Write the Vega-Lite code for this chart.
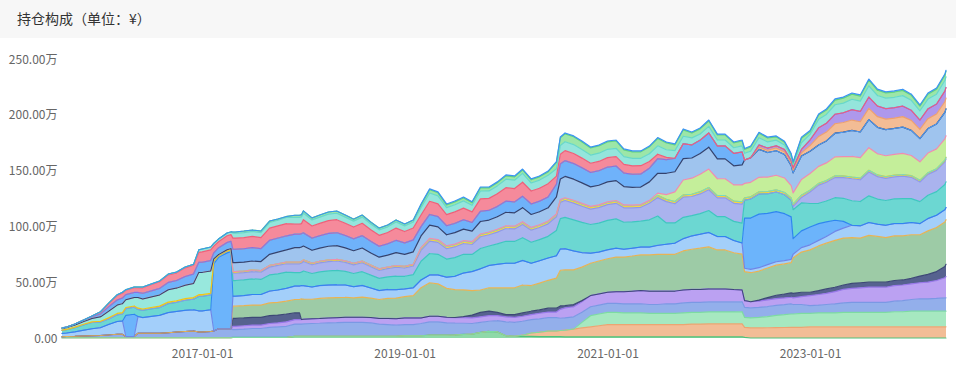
{
"$schema":"https://vega.github.io/schema/vega-lite/v6.json",
"padding":0,
"background":"white",
"spacing":15,
"config":{"view":{"stroke":null},"font":"Noto Sans CJK SC"},
"vconcat":[
{"width":956,"height":38,
 "view":{"fill":"#f7f7f7","stroke":null},
 "title":{"text":"持仓构成（单位：¥）","anchor":"start","frame":"group","orient":"top","offset":-19,"dx":17,"dy":15,"baseline":"middle","fontSize":14,"fontWeight":"normal","color":"#333333","font":"Noto Sans CJK SC"},
 "data":{"values":[]},
 "mark":{"type":"rect","opacity":0}
},
{"width":946,"height":279,
 "data":{"format":{"parse":{"date":"date"}},"values":[
{"date":"2015-08-15","a":0.3,"b":0,"c":0,"d":0.9,"e":0,"f":0,"g":0,"h":2.9,"i":0,"j":2.7,"k":0,"l":0.3,"m":1.3,"n":0,"o":0,"p":0.6,"q":0,"r":0,"s":0,"t":0,"u":0,"v":0},
{"date":"2015-09-01","a":0.3,"b":0,"c":0,"d":1,"e":0,"f":0,"g":0,"h":3.2,"i":0,"j":3,"k":0,"l":0.3,"m":1.5,"n":0,"o":0,"p":0.6,"q":0,"r":0,"s":0,"t":0,"u":0,"v":0},
{"date":"2015-10-01","a":0.3,"b":0,"c":0,"d":1.2,"e":0,"f":0,"g":0,"h":4,"i":0,"j":3.8,"k":0,"l":0.4,"m":1.9,"n":0,"o":0,"p":0.9,"q":0,"r":0,"s":0,"t":0,"u":0,"v":0},
{"date":"2015-11-01","a":0.3,"b":0,"c":0,"d":1.5,"e":0,"f":0,"g":0,"h":5.2,"i":0,"j":4.8,"k":0,"l":0.5,"m":2.4,"n":0,"o":0,"p":1.4,"q":0,"r":0,"s":0,"t":0,"u":0,"v":0},
{"date":"2015-12-01","a":0.3,"b":0,"c":0,"d":1.8,"e":0,"f":0,"g":0,"h":6.2,"i":0,"j":5.6,"k":0,"l":0.6,"m":3,"n":0,"o":0,"p":1.6,"q":0,"r":0,"s":0.6,"t":0,"u":0,"v":0},
{"date":"2016-01-01","a":0.3,"b":0,"c":0,"d":2,"e":0,"f":0,"g":0,"h":7,"i":0,"j":5,"k":0,"l":0.7,"m":4,"n":0,"o":0,"p":2.6,"q":0,"r":0,"s":1.7,"t":0.3,"u":0,"v":0},
{"date":"2016-02-01","a":0.3,"b":0,"c":0,"d":2.5,"e":0,"f":0,"g":0,"h":9.5,"i":0,"j":5,"k":0,"l":1,"m":6,"n":0,"o":0,"p":4,"q":0,"r":0,"s":3,"t":0.5,"u":0,"v":0},
{"date":"2016-03-01","a":0.3,"b":0,"c":0,"d":3,"e":0,"f":0,"g":0,"h":11.5,"i":0,"j":6,"k":0,"l":1.2,"m":7.5,"n":0,"o":0,"p":4.6,"q":0,"r":0,"s":4,"t":0.7,"u":0,"v":0},
{"date":"2016-03-20","a":0.3,"b":0,"c":0,"d":3,"e":0,"f":0,"g":0,"h":12,"i":0,"j":6.3,"k":0,"l":1.2,"m":8,"n":0,"o":0,"p":5,"q":0,"r":0,"s":4.5,"t":0.7,"u":0,"v":0},
{"date":"2016-04-01","a":0.3,"b":0,"c":0,"d":1,"e":0,"f":0,"g":0,"h":0,"i":19,"j":6,"k":0,"l":1,"m":7,"n":0,"o":0,"p":4.5,"q":0,"r":0,"s":4,"t":0.5,"u":0,"v":0},
{"date":"2016-05-01","a":0.3,"b":0,"c":0,"d":1,"e":0,"f":0,"g":0,"h":0,"i":20,"j":6.3,"k":0,"l":1.1,"m":7.5,"n":0,"o":0,"p":4.6,"q":0,"r":0,"s":4.3,"t":0.6,"u":0,"v":0},
{"date":"2016-05-15","a":0.3,"b":0,"c":0,"d":4,"e":0,"f":0,"g":0,"h":15,"i":0,"j":6.3,"k":0,"l":1.1,"m":9.5,"n":0,"o":0,"p":4.6,"q":0,"r":0,"s":4.3,"t":0.6,"u":0,"v":0},
{"date":"2016-06-01","a":0.3,"b":0,"c":0,"d":4,"e":0,"f":0,"g":0,"h":14,"i":0,"j":6.5,"k":0,"l":1.2,"m":9,"n":0,"o":0,"p":5,"q":0,"r":0,"s":5,"t":0.7,"u":0,"v":0},
{"date":"2016-07-01","a":0.3,"b":0,"c":0,"d":4,"e":0,"f":0,"g":0,"h":15,"i":0,"j":6.8,"k":0,"l":1.2,"m":9.5,"n":0,"o":0,"p":5.4,"q":0,"r":0,"s":5.5,"t":0.7,"u":0,"v":0},
{"date":"2016-08-01","a":0.3,"b":0,"c":0,"d":4,"e":0,"f":0,"g":0,"h":16,"i":0,"j":7,"k":0,"l":1.3,"m":10,"n":0,"o":0,"p":5.8,"q":0,"r":0,"s":6,"t":0.7,"u":0,"v":0},
{"date":"2016-09-01","a":0.3,"b":0,"c":0,"d":4.5,"e":0,"f":0,"g":0,"h":18,"i":0,"j":8,"k":0,"l":1.4,"m":11,"n":0,"o":0,"p":6.6,"q":0,"r":0,"s":6.8,"t":0.7,"u":0,"v":0},
{"date":"2016-10-01","a":0.3,"b":0,"c":0,"d":5,"e":0,"f":0,"g":0,"h":18.5,"i":0,"j":8.2,"k":0,"l":1.4,"m":11.3,"n":0,"o":0,"p":6.8,"q":0,"r":0,"s":6.9,"t":0.7,"u":0,"v":0},
{"date":"2016-11-01","a":0.3,"b":0,"c":0,"d":5.5,"e":0,"f":0,"g":0,"h":19,"i":0,"j":9,"k":0,"l":1.5,"m":12,"n":0,"o":0,"p":7.8,"q":0,"r":0,"s":7.8,"t":0.7,"u":0,"v":0},
{"date":"2016-12-01","a":0.3,"b":0,"c":0,"d":6,"e":0,"f":0,"g":0,"h":19,"i":0,"j":9.5,"k":0,"l":1.5,"m":12.5,"n":0,"o":0,"p":8.5,"q":0,"r":0,"s":7.9,"t":0.8,"u":0,"v":0},
{"date":"2016-12-20","a":0.3,"b":0,"c":0,"d":5,"e":0,"f":0,"g":0,"h":19,"i":0,"j":13,"k":0,"l":1.5,"m":20,"n":0,"o":0,"p":9,"q":0,"r":0,"s":9,"t":2.2,"u":0,"v":0},
{"date":"2017-01-01","a":0.3,"b":0,"c":0,"d":5,"e":0,"f":0,"g":0,"h":19,"i":0,"j":13,"k":0,"l":1.5,"m":20,"n":0,"o":0,"p":9,"q":0,"r":0,"s":9.4,"t":2.5,"u":0,"v":0},
{"date":"2017-02-01","a":0.3,"b":0,"c":0,"d":5.5,"e":0,"f":0,"g":0,"h":19.5,"i":0,"j":13.3,"k":0,"l":1.5,"m":20,"n":0,"o":0,"p":9.3,"q":0,"r":0,"s":9.6,"t":2.5,"u":0,"v":0},
{"date":"2017-02-12","a":0.3,"b":0,"c":0,"d":6,"e":0,"f":0,"g":0,"h":0,"i":60,"j":2,"k":0,"l":0.5,"m":2,"n":0,"o":0,"p":5.5,"q":0,"r":0,"s":6,"t":2.5,"u":0,"v":0},
{"date":"2017-03-01","a":0.3,"b":0,"c":0,"d":8,"e":0,"f":0,"g":0,"h":0,"i":64,"j":1,"k":0,"l":0.4,"m":1,"n":0,"o":0,"p":6,"q":0,"r":0,"s":5.5,"t":2.5,"u":0,"v":0},
{"date":"2017-04-01","a":0.3,"b":0,"c":0,"d":8,"e":0,"f":0,"g":0,"h":0,"i":68,"j":1.2,"k":0,"l":0.4,"m":1.2,"n":0,"o":0,"p":6.5,"q":0,"r":0,"s":6,"t":2.5,"u":0,"v":0},
{"date":"2017-04-15","a":0.3,"b":0,"c":0,"d":8,"e":0,"f":0,"g":0,"h":0,"i":69,"j":1.2,"k":0,"l":0.4,"m":1.2,"n":0,"o":0,"p":6.5,"q":0,"r":0,"s":6,"t":2.5,"u":0,"v":0},
{"date":"2017-04-22","a":0.5,"b":0,"c":0,"d":7,"e":3,"f":7,"g":11,"h":9,"i":0,"j":14,"k":6.5,"l":1.5,"m":0,"n":0,"o":8,"p":12,"q":0,"r":0,"s":10,"t":4.5,"u":1,"v":0},
{"date":"2017-05-01","a":0.5,"b":0,"c":0,"d":7,"e":3,"f":7,"g":11,"h":9,"i":0,"j":14,"k":6.5,"l":1.5,"m":0,"n":0,"o":8,"p":12,"q":0,"r":0,"s":10,"t":4.5,"u":1,"v":0},
{"date":"2017-06-01","a":0.5,"b":0,"c":0,"d":7.5,"e":3,"f":7,"g":11,"h":9,"i":0,"j":14,"k":6.5,"l":1.5,"m":0,"n":0,"o":8,"p":12,"q":0,"r":0,"s":10,"t":4.5,"u":1.4,"v":0},
{"date":"2017-07-01","a":0.5,"b":0,"c":0,"d":8,"e":3,"f":7,"g":11,"h":9.5,"i":0,"j":14,"k":6.5,"l":1.5,"m":0,"n":0,"o":8,"p":12,"q":0,"r":0,"s":10,"t":4.5,"u":1.3,"v":0},
{"date":"2017-08-01","a":0.5,"b":0,"c":0,"d":8,"e":3,"f":7,"g":11,"h":9.5,"i":0,"j":13.5,"k":6.5,"l":1.5,"m":0,"n":0,"o":8,"p":11.5,"q":0,"r":0,"s":10,"t":4.5,"u":1.4,"v":0},
{"date":"2017-09-01","a":0.5,"b":0,"c":0,"d":9,"e":3.5,"f":7,"g":11.5,"h":10.5,"i":0,"j":14.5,"k":7,"l":1.5,"m":0,"n":0,"o":10,"p":12.5,"q":0,"r":0,"s":11,"t":5,"u":1.3,"v":0},
{"date":"2017-10-01","a":0.5,"b":0,"c":0,"d":9.5,"e":3.5,"f":7,"g":11.5,"h":11,"i":0,"j":14.5,"k":7.5,"l":1.5,"m":0,"n":0,"o":10.5,"p":12.5,"q":0,"r":0,"s":11,"t":5,"u":1.1,"v":0},
{"date":"2017-11-01","a":0.5,"b":0,"c":0,"d":10,"e":4,"f":7,"g":11.5,"h":11.5,"i":0,"j":14.5,"k":7.5,"l":1.5,"m":0,"n":0,"o":11,"p":12.5,"q":0,"r":0,"s":11,"t":5.5,"u":0.9,"v":0},
{"date":"2017-12-01","a":1.5,"b":0,"c":0,"d":11,"e":4,"f":6,"g":12,"h":12,"i":0,"j":12,"k":8,"l":1.5,"m":0,"n":0,"o":13,"p":12,"q":0,"r":0,"s":9,"t":6,"u":2,"v":0},
{"date":"2017-12-18","a":1.5,"b":0,"c":0,"d":11,"e":4,"f":6,"g":12,"h":12,"i":0,"j":12,"k":8,"l":1.5,"m":0,"n":0,"o":13,"p":12,"q":0,"r":0,"s":9,"t":6,"u":2,"v":0},
{"date":"2017-12-25","a":1.5,"b":0,"c":0,"d":11,"e":4,"f":0,"g":18.5,"h":12,"i":0,"j":12,"k":8,"l":1.5,"m":0,"n":0,"o":13,"p":12,"q":0,"r":0,"s":9,"t":6,"u":2,"v":0},
{"date":"2018-01-01","a":1.5,"b":0,"c":0,"d":11.2,"e":4.2,"f":0,"g":18,"h":12,"i":0,"j":13.1,"k":8.5,"l":1.5,"m":0,"n":0,"o":12.4,"p":11.8,"q":0,"r":0,"s":11.8,"t":5.9,"u":2,"v":0},
{"date":"2018-02-01","a":1.5,"b":0,"c":0,"d":11.5,"e":4.2,"f":0,"g":17.5,"h":11,"i":0,"j":12.1,"k":7.8,"l":1.5,"m":0,"n":0,"o":11.5,"p":10.9,"q":0,"r":0,"s":10.9,"t":5.4,"u":1.8,"v":0},
{"date":"2018-03-01","a":1.5,"b":0,"c":0,"d":11.7,"e":4.3,"f":0,"g":18,"h":11.5,"i":0,"j":12.3,"k":8,"l":1.5,"m":0,"n":0,"o":11.7,"p":11.1,"q":0,"r":0,"s":11.1,"t":5.6,"u":1.9,"v":0},
{"date":"2018-04-01","a":1.5,"b":0,"c":0,"d":12,"e":4.4,"f":0,"g":18,"h":11.5,"i":0,"j":12.8,"k":8.3,"l":1.5,"m":0,"n":0,"o":12.2,"p":11.5,"q":0,"r":0,"s":11.5,"t":5.8,"u":1.9,"v":0},
{"date":"2018-05-01","a":1.5,"b":0,"c":0,"d":12.2,"e":4.5,"f":0,"g":18,"h":11.5,"i":0,"j":12.9,"k":8.4,"l":1.5,"m":0,"n":0,"o":12.3,"p":11.6,"q":0,"r":0,"s":11.6,"t":5.8,"u":2,"v":0},
{"date":"2018-06-01","a":1.5,"b":0,"c":0,"d":12.5,"e":4.5,"f":0,"g":18,"h":11,"i":0,"j":12.2,"k":8,"l":1.5,"m":0,"n":0,"o":11.6,"p":11,"q":0,"r":0,"s":11,"t":5.5,"u":1.9,"v":0},
{"date":"2018-07-01","a":1.5,"b":0,"c":0,"d":12.5,"e":4.5,"f":0,"g":17.5,"h":10,"i":0,"j":11.8,"k":7.7,"l":1.5,"m":0,"n":0,"o":11.2,"p":10.6,"q":0,"r":0,"s":10.6,"t":5.3,"u":1.8,"v":0},
{"date":"2018-08-01","a":1.5,"b":0,"c":0,"d":12.5,"e":4.6,"f":0,"g":18,"h":10.5,"i":0,"j":12.3,"k":8,"l":1.5,"m":0,"n":0,"o":11.7,"p":11.1,"q":0,"r":0,"s":11.1,"t":5.5,"u":1.9,"v":0},
{"date":"2018-09-01","a":1.5,"b":0,"c":0,"d":12,"e":4.8,"f":0,"g":17.5,"h":9,"i":0,"j":11.5,"k":7.5,"l":1.5,"m":0,"n":0,"o":10.9,"p":10.4,"q":0,"r":0,"s":10.4,"t":5.2,"u":1.7,"v":0},
{"date":"2018-10-01","a":1.5,"b":0,"c":0,"d":11,"e":5,"f":0,"g":17,"h":8,"i":0,"j":10.9,"k":7.1,"l":1.5,"m":0,"n":0,"o":10.4,"p":9.8,"q":0,"r":0,"s":9.8,"t":4.9,"u":1.6,"v":0},
{"date":"2018-11-01","a":1.5,"b":0,"c":0,"d":10.5,"e":5.5,"f":0,"g":18,"h":8,"i":0,"j":11.3,"k":7.3,"l":1.5,"m":0,"n":0,"o":10.7,"p":10.1,"q":0,"r":0,"s":10.1,"t":5.1,"u":1.7,"v":0},
{"date":"2018-12-01","a":1.5,"b":0,"c":0,"d":10,"e":5.8,"f":0,"g":18.5,"h":7.5,"i":0,"j":12.2,"k":7.9,"l":1.5,"m":0,"n":0,"o":11.6,"p":11,"q":0,"r":0,"s":11,"t":5.5,"u":1.8,"v":0},
{"date":"2019-01-01","a":2,"b":0,"c":0,"d":10,"e":6,"f":0,"g":19,"h":7,"i":0,"j":11.3,"k":7.4,"l":1.5,"m":0,"n":0,"o":10.8,"p":10.2,"q":0,"r":0,"s":10.2,"t":5.1,"u":1.7,"v":0},
{"date":"2019-02-01","a":2,"b":0,"c":0,"d":10,"e":6,"f":0,"g":20,"h":7,"i":0,"j":11.8,"k":7.7,"l":1.5,"m":0,"n":0,"o":11.2,"p":10.7,"q":0,"r":0,"s":10.7,"t":5.3,"u":1.8,"v":0},
{"date":"2019-03-01","a":2,"b":0,"c":0,"d":11,"e":5,"f":0,"g":27,"h":7,"i":0,"j":16.8,"k":9.7,"l":2,"m":0,"n":0.5,"o":10.4,"p":8.4,"q":0,"r":0,"s":10.4,"t":6.5,"u":2.6,"v":0.8},
{"date":"2019-04-01","a":2.5,"b":0,"c":0,"d":12,"e":5,"f":0,"g":30,"h":7,"i":0,"j":19.2,"k":11.1,"l":2,"m":0,"n":0.5,"o":11.8,"p":9.6,"q":0,"r":0,"s":11.8,"t":7.4,"u":2.9,"v":0.8},
{"date":"2019-05-01","a":2.5,"b":0,"c":0,"d":12,"e":5,"f":0,"g":29,"h":8,"i":0,"j":18.5,"k":10.7,"l":2,"m":0,"n":0.5,"o":11.4,"p":9.2,"q":0,"r":0,"s":11.4,"t":7.1,"u":2.8,"v":0.8},
{"date":"2019-06-01","a":2.5,"b":0,"c":0,"d":11,"e":5,"f":0,"g":26,"h":10,"i":0,"j":16.2,"k":9.3,"l":2,"m":0,"n":0.5,"o":10,"p":8.1,"q":0,"r":0,"s":10,"t":6.2,"u":2.5,"v":0.8},
{"date":"2019-07-01","a":2.8,"b":0,"c":0,"d":10.5,"e":5,"f":0,"g":25,"h":12,"i":0,"j":16.7,"k":9.6,"l":2,"m":0,"n":0.5,"o":10.3,"p":8.3,"q":0,"r":0,"s":10.3,"t":6.4,"u":2.6,"v":0.8},
{"date":"2019-08-01","a":3.2,"b":0,"c":0,"d":10,"e":5,"f":1,"g":24,"h":15,"i":0,"j":16.8,"k":9.7,"l":2,"m":0,"n":0.5,"o":10.4,"p":8.4,"q":0,"r":0,"s":10.4,"t":6.5,"u":2.6,"v":0.8},
{"date":"2019-09-01","a":3.5,"b":0,"c":0,"d":9.5,"e":5,"f":2.5,"g":22,"h":17,"i":0,"j":15.4,"k":8.9,"l":2,"m":0,"n":0.5,"o":9.5,"p":7.7,"q":0,"r":0,"s":9.5,"t":5.9,"u":2.4,"v":0.8},
{"date":"2019-10-01","a":5,"b":0,"c":0,"d":9,"e":5,"f":4,"g":20,"h":19,"i":0,"j":18.2,"k":10.5,"l":2,"m":0,"n":0.5,"o":11.2,"p":9.1,"q":0,"r":0,"s":11.2,"t":7,"u":2.8,"v":0.8},
{"date":"2019-11-01","a":6,"b":0,"c":0,"d":9,"e":5,"f":4,"g":21,"h":20,"i":0,"j":17.4,"k":10.1,"l":2,"m":0,"n":0.5,"o":10.7,"p":8.7,"q":0,"r":0,"s":10.7,"t":6.7,"u":2.7,"v":0.8},
{"date":"2019-12-01","a":5.5,"b":0,"c":0,"d":10,"e":4.5,"f":3,"g":22,"h":21,"i":0,"j":18.3,"k":10.6,"l":2,"m":0,"n":0.5,"o":11.3,"p":9.2,"q":0,"r":0,"s":11.3,"t":7.1,"u":2.8,"v":0.8},
{"date":"2020-01-01","a":2,"b":0,"c":0,"d":12.5,"e":4.5,"f":2,"g":24,"h":22,"i":0,"j":19.7,"k":11.4,"l":2,"m":0,"n":0.5,"o":12.1,"p":9.9,"q":0,"r":0,"s":12.1,"t":7.6,"u":3,"v":0.8},
{"date":"2020-02-01","a":1.5,"b":0,"c":0,"d":12.5,"e":4.5,"f":2.5,"g":24,"h":22,"i":0,"j":19.5,"k":11.2,"l":2,"m":0,"n":0.5,"o":12,"p":9.7,"q":0,"r":0,"s":12,"t":7.5,"u":3,"v":0.8},
{"date":"2020-03-01","a":1.5,"b":1,"c":0,"d":12.5,"e":4.5,"f":3,"g":25,"h":22,"i":0,"j":20.4,"k":11.8,"l":2,"m":0,"n":0.5,"o":12.6,"p":10.2,"q":0,"r":0,"s":12.6,"t":7.9,"u":3.1,"v":0.8},
{"date":"2020-04-01","a":1.5,"b":3,"c":0,"d":12,"e":4.5,"f":3,"g":23,"h":20,"i":0,"j":18.8,"k":10.8,"l":2,"m":0,"n":0.5,"o":11.6,"p":9.4,"q":0,"r":0,"s":11.6,"t":7.2,"u":2.9,"v":0.8},
{"date":"2020-05-01","a":1.2,"b":4,"c":0,"d":12,"e":5,"f":3,"g":24,"h":20,"i":0,"j":18.9,"k":10.9,"l":2,"m":0,"n":0.5,"o":11.6,"p":9.5,"q":0,"r":0,"s":11.6,"t":7.3,"u":2.9,"v":0.8},
{"date":"2020-06-01","a":1.2,"b":5,"c":0,"d":12,"e":5,"f":3.5,"g":25,"h":20,"i":0,"j":19.4,"k":11.2,"l":2,"m":0,"n":0.5,"o":11.9,"p":9.7,"q":0,"r":0,"s":11.9,"t":7.5,"u":3,"v":0.8},
{"date":"2020-07-01","a":1.2,"b":5,"c":0,"d":12,"e":5,"f":3.5,"g":27,"h":20,"i":0,"j":22.7,"k":12.2,"l":2,"m":0,"n":0.5,"o":15.4,"p":11.3,"q":0,"r":0,"s":7.3,"t":6.5,"u":5.7,"v":0.8},
{"date":"2020-07-15","a":1.2,"b":5.5,"c":0,"d":11,"e":8,"f":3,"g":32,"h":19,"i":0,"j":27.2,"k":14.6,"l":2,"m":0,"n":0.5,"o":18.4,"p":13.6,"q":0,"r":0,"s":8.7,"t":7.8,"u":6.8,"v":0.8},
{"date":"2020-08-01","a":1,"b":6,"c":0,"d":11,"e":9,"f":2,"g":32,"h":19,"i":0,"j":28.1,"k":15.1,"l":2,"m":0,"n":0.5,"o":19.1,"p":14.1,"q":0,"r":0,"s":9,"t":8,"u":7,"v":0.8},
{"date":"2020-09-01","a":1,"b":7,"c":0,"d":11,"e":9,"f":2,"g":31,"h":17,"i":0,"j":27.9,"k":15,"l":2,"m":0,"n":0.5,"o":18.9,"p":14,"q":0,"r":0,"s":9,"t":8,"u":7,"v":0.8},
{"date":"2020-10-01","a":1,"b":8,"c":5,"d":9,"e":9.5,"f":1,"g":30,"h":13,"i":0,"j":27.1,"k":14.5,"l":2,"m":0,"n":0.5,"o":18.4,"p":13.5,"q":0,"r":0,"s":8.7,"t":7.7,"u":6.8,"v":0.8},
{"date":"2020-11-01","a":1,"b":9,"c":10,"d":8,"e":10,"f":0,"g":29,"h":9,"i":0,"j":25.7,"k":13.8,"l":2,"m":0,"n":0.5,"o":17.4,"p":12.9,"q":0,"r":0,"s":8.3,"t":7.3,"u":6.4,"v":0.8},
{"date":"2020-12-01","a":1,"b":10,"c":10.5,"d":8,"e":10,"f":0,"g":29.5,"h":8,"i":0,"j":25.9,"k":13.9,"l":2,"m":0,"n":0.5,"o":17.6,"p":13,"q":0,"r":0,"s":8.3,"t":7.4,"u":6.5,"v":0.8},
{"date":"2021-01-01","a":1,"b":11,"c":11,"d":8,"e":10,"f":0,"g":30,"h":8,"i":0,"j":26.4,"k":14.1,"l":2,"m":0,"n":0.5,"o":17.9,"p":13.2,"q":0,"r":0,"s":8.5,"t":7.5,"u":6.6,"v":0.8},
{"date":"2021-02-01","a":1,"b":11,"c":11,"d":8,"e":10.5,"f":0,"g":31,"h":8,"i":0,"j":26.2,"k":14,"l":2,"m":0,"n":0.5,"o":17.8,"p":13.1,"q":0,"r":0,"s":8.4,"t":7.5,"u":6.6,"v":0.8},
{"date":"2021-03-01","a":1,"b":11,"c":10.5,"d":8,"e":11,"f":0,"g":31,"h":7,"i":0,"j":24.2,"k":13,"l":2,"m":0,"n":0.5,"o":16.5,"p":12.1,"q":0,"r":0,"s":7.8,"t":6.9,"u":6.1,"v":0.8},
{"date":"2021-04-01","a":1,"b":11,"c":10.5,"d":8,"e":11.5,"f":0,"g":31.5,"h":7,"i":0,"j":23.5,"k":12.6,"l":2,"m":0,"n":0.5,"o":15.9,"p":11.7,"q":0,"r":0,"s":7.5,"t":6.7,"u":5.9,"v":0.8},
{"date":"2021-05-01","a":1,"b":11,"c":10.5,"d":8,"e":12,"f":0,"g":32,"h":7,"i":0,"j":23.2,"k":12.4,"l":2,"m":0,"n":0.5,"o":15.7,"p":11.6,"q":0,"r":0,"s":7.5,"t":6.6,"u":5.8,"v":0.8},
{"date":"2021-06-01","a":1,"b":11,"c":10,"d":8,"e":12,"f":0,"g":32.5,"h":7,"i":0,"j":24.4,"k":14.9,"l":2,"m":0,"n":0.5,"o":16.6,"p":12.2,"q":0,"r":0,"s":6,"t":7,"u":6.1,"v":0.8},
{"date":"2021-07-01","a":1,"b":11,"c":10,"d":8,"e":12,"f":0,"g":33,"h":8,"i":0,"j":26.3,"k":16.5,"l":2,"m":0,"n":2,"o":17.8,"p":13.1,"q":0,"r":0,"s":4,"t":7.5,"u":6.6,"v":0.8},
{"date":"2021-08-01","a":1,"b":11,"c":10,"d":8.5,"e":11.5,"f":0,"g":33,"h":9,"i":0,"j":19.1,"k":19.1,"l":2,"m":0,"n":4.3,"o":19.1,"p":12.2,"q":0,"r":0,"s":2,"t":6.9,"u":6.1,"v":0.8},
{"date":"2021-09-01","a":1,"b":11,"c":10,"d":8.5,"e":11.5,"f":0,"g":33,"h":10,"i":0,"j":18.1,"k":17.2,"l":2,"m":0,"n":8.6,"o":18.1,"p":12,"q":0,"r":0,"s":0,"t":6.9,"u":5.2,"v":0.8},
{"date":"2021-10-01","a":1,"b":11,"c":10.5,"d":9,"e":11.5,"f":0,"g":35,"h":11,"i":0,"j":19.1,"k":18.1,"l":2,"m":0,"n":13.4,"o":19.1,"p":13.4,"q":0,"r":0,"s":0,"t":6.7,"u":5.7,"v":0.8},
{"date":"2021-11-01","a":1,"b":11.5,"c":10.5,"d":9,"e":11.5,"f":0,"g":36,"h":12,"i":0,"j":18.1,"k":17.2,"l":2,"m":0,"n":14.4,"o":18.1,"p":11.7,"q":0,"r":0,"s":0,"t":6.3,"u":4.5,"v":0.8},
{"date":"2021-12-01","a":1,"b":11.5,"c":10.5,"d":9,"e":11.5,"f":0,"g":37,"h":12.5,"i":0,"j":18.5,"k":17.6,"l":2,"m":0,"n":15.7,"o":18.5,"p":12,"q":0,"r":0,"s":0,"t":5.5,"u":4.6,"v":0.8},
{"date":"2022-01-01","a":1,"b":11.6,"c":10.8,"d":9,"e":11.6,"f":0,"g":37.6,"h":13,"i":0,"j":19.6,"k":18.6,"l":2,"m":0,"n":16.6,"o":19.6,"p":12.7,"q":0,"r":0,"s":0,"t":5.9,"u":4.9,"v":0.8},
{"date":"2022-02-01","a":1,"b":11.6,"c":10.8,"d":9,"e":11.5,"f":0,"g":35,"h":12,"i":0,"j":17.8,"k":16.9,"l":2,"m":0,"n":15.1,"o":17.8,"p":11.6,"q":0,"r":0,"s":0,"t":5.3,"u":4.5,"v":0.8},
{"date":"2022-03-01","a":1,"b":11.6,"c":10.8,"d":9,"e":11.5,"f":0,"g":35,"h":12,"i":0,"j":17.8,"k":16.9,"l":2,"m":0,"n":15.1,"o":17.8,"p":11.6,"q":0,"r":0,"s":0,"t":5.3,"u":4.5,"v":0.8},
{"date":"2022-04-01","a":1,"b":11.6,"c":10.8,"d":9,"e":11,"f":0,"g":33,"h":11,"i":0,"j":17.1,"k":16.2,"l":2,"m":0,"n":14.5,"o":17.1,"p":11.1,"q":0,"r":0,"s":0,"t":5.1,"u":4.3,"v":0.8},
{"date":"2022-05-01","a":1,"b":11.6,"c":11,"d":9,"e":10.5,"f":0,"g":32,"h":10,"i":0,"j":17.9,"k":17,"l":2,"m":0,"n":15.2,"o":17.9,"p":11.6,"q":0,"r":0,"s":0,"t":5.4,"u":4.5,"v":0.8},
{"date":"2022-05-10","a":0.5,"b":9,"c":9,"d":9,"e":6,"f":0,"g":26,"h":3,"i":45,"j":16,"k":0,"l":2,"m":0,"n":13,"o":21,"p":0,"q":0,"r":0,"s":0,"t":6,"u":3.5,"v":0.8},
{"date":"2022-06-01","a":0,"b":9,"c":9,"d":9,"e":5.5,"f":0,"g":26,"h":3,"i":46,"j":17,"k":0,"l":2,"m":0,"n":13,"o":22,"p":0,"q":0,"r":0,"s":0,"t":6,"u":3.7,"v":0.8},
{"date":"2022-07-01","a":0,"b":9,"c":9.5,"d":9,"e":5.5,"f":1,"g":26,"h":3,"i":48,"j":18,"k":0,"l":2,"m":0,"n":13,"o":25,"p":0,"q":2,"r":2,"s":0,"t":6.5,"u":4,"v":0.8},
{"date":"2022-08-01","a":0,"b":9.2,"c":10,"d":9,"e":6,"f":2,"g":26.5,"h":3,"i":46,"j":17.5,"k":0,"l":2,"m":0,"n":13,"o":22,"p":0,"q":2,"r":2,"s":0,"t":5.5,"u":3.5,"v":0.8},
{"date":"2022-09-01","a":0,"b":9.3,"c":11,"d":9,"e":6,"f":3,"g":27,"h":3,"i":45,"j":17.5,"k":0,"l":2,"m":0,"n":13,"o":22,"p":0,"q":2.5,"r":2,"s":0,"t":5,"u":3,"v":0.8},
{"date":"2022-10-01","a":0,"b":9.4,"c":11.5,"d":9,"e":6,"f":3.5,"g":27,"h":3,"i":42,"j":17,"k":0,"l":2,"m":0,"n":13,"o":21,"p":0,"q":2.5,"r":2,"s":0,"t":4,"u":2.5,"v":0.8},
{"date":"2022-10-25","a":0,"b":9.5,"c":12,"d":9,"e":6,"f":4,"g":27,"h":3,"i":38,"j":15,"k":0,"l":2,"m":0,"n":11,"o":18,"p":0,"q":2.5,"r":2,"s":0,"t":3.5,"u":2,"v":0.8},
{"date":"2022-11-01","a":0,"b":9.5,"c":12,"d":8.5,"e":6,"f":4,"g":32,"h":3,"i":14,"j":26,"k":3,"l":2,"m":0,"n":10,"o":18,"p":0,"q":2.5,"r":2,"s":0,"t":3,"u":1.5,"v":0.8},
{"date":"2022-12-01","a":0,"b":9.5,"c":12.5,"d":8,"e":7,"f":4,"g":36,"h":4,"i":15,"j":25,"k":5,"l":2,"m":0,"n":14,"o":21,"p":0,"q":3,"r":3,"s":0,"t":6,"u":4,"v":1},
{"date":"2023-01-01","a":0,"b":10,"c":12,"d":7,"e":9,"f":3,"g":38,"h":4.5,"i":16,"j":21,"k":10.4,"l":1.5,"m":0,"n":15,"o":20,"p":0,"q":5,"r":5,"s":0,"t":5,"u":2.5,"v":1},
{"date":"2023-02-01","a":0,"b":10,"c":12.5,"d":7,"e":9.5,"f":3.5,"g":40,"h":5,"i":15,"j":18.2,"k":16.3,"l":1.5,"m":0,"n":15.3,"o":19.1,"p":0,"q":7.7,"r":7.7,"s":0,"t":7.7,"u":3.8,"v":1},
{"date":"2023-03-01","a":0,"b":10,"c":12.5,"d":7.5,"e":10,"f":4,"g":41,"h":6,"i":13,"j":18.8,"k":16.8,"l":1.5,"m":0,"n":15.8,"o":19.7,"p":0,"q":7.9,"r":7.9,"s":0,"t":7.9,"u":3.9,"v":1},
{"date":"2023-04-01","a":0,"b":10,"c":12.5,"d":8,"e":11,"f":4,"g":42,"h":8,"i":10,"j":20.2,"k":18.1,"l":1.5,"m":0,"n":17,"o":21.2,"p":0,"q":8.5,"r":8.5,"s":0,"t":8.5,"u":4.2,"v":1},
{"date":"2023-05-01","a":0,"b":10,"c":13,"d":8.5,"e":12,"f":4,"g":42,"h":9,"i":6,"j":20.7,"k":18.5,"l":1.5,"m":0,"n":17.4,"o":21.8,"p":0,"q":8.7,"r":8.7,"s":0,"t":8.7,"u":4.4,"v":1},
{"date":"2023-06-01","a":0,"b":10,"c":13,"d":9,"e":12.5,"f":4.5,"g":41,"h":11,"i":0,"j":22,"k":19.7,"l":1.5,"m":0,"n":18.6,"o":23.2,"p":0,"q":9.3,"r":9.3,"s":0,"t":9.3,"u":4.6,"v":1},
{"date":"2023-07-01","a":0,"b":10,"c":13,"d":9,"e":13,"f":4.5,"g":40,"h":11,"i":0,"j":21.8,"k":19.5,"l":1.5,"m":0,"n":18.4,"o":22.9,"p":0,"q":9.2,"r":9.2,"s":0,"t":9.2,"u":4.6,"v":1},
{"date":"2023-08-01","a":0,"b":10,"c":13,"d":9,"e":13.5,"f":4.5,"g":42,"h":11.5,"i":0,"j":23.9,"k":21.4,"l":1.5,"m":0,"n":20.2,"o":25.2,"p":0,"q":10.1,"r":10.1,"s":0,"t":10.1,"u":5,"v":1},
{"date":"2023-09-01","a":0,"b":10,"c":13,"d":9,"e":13.5,"f":4.5,"g":41,"h":11,"i":0,"j":22.5,"k":20.1,"l":1.5,"m":0,"n":19,"o":23.7,"p":0,"q":9.5,"r":9.5,"s":0,"t":9.5,"u":4.7,"v":1},
{"date":"2023-10-01","a":0,"b":10,"c":13,"d":9,"e":13.5,"f":4.5,"g":40,"h":11,"i":0,"j":22.2,"k":19.9,"l":1.5,"m":0,"n":18.7,"o":23.4,"p":0,"q":9.4,"r":9.4,"s":0,"t":9.4,"u":4.7,"v":1},
{"date":"2023-11-01","a":0,"b":10,"c":13.5,"d":9.5,"e":14,"f":4.5,"g":40,"h":11,"i":0,"j":22.1,"k":19.8,"l":1.5,"m":0,"n":18.6,"o":23.3,"p":0,"q":9.3,"r":9.3,"s":0,"t":9.3,"u":4.7,"v":1},
{"date":"2023-12-01","a":0,"b":10,"c":13.5,"d":10,"e":14,"f":4.5,"g":39.5,"h":11,"i":0,"j":22.4,"k":20.1,"l":1.5,"m":0,"n":18.9,"o":23.6,"p":0,"q":9.4,"r":9.4,"s":0,"t":9.4,"u":4.7,"v":1},
{"date":"2024-01-01","a":0,"b":10,"c":14,"d":10.5,"e":14,"f":5,"g":39,"h":11,"i":0,"j":21.4,"k":19.1,"l":1.5,"m":0,"n":18,"o":22.5,"p":0,"q":9,"r":9,"s":0,"t":9,"u":4.5,"v":1},
{"date":"2024-02-01","a":0,"b":10,"c":14,"d":11,"e":14.5,"f":6,"g":37,"h":10,"i":0,"j":19.7,"k":17.6,"l":1.5,"m":0,"n":16.6,"o":20.8,"p":0,"q":8.3,"r":8.3,"s":0,"t":8.3,"u":4.2,"v":1},
{"date":"2024-03-01","a":0,"b":10,"c":14,"d":11,"e":15,"f":7,"g":39,"h":11,"i":0,"j":20.9,"k":18.7,"l":1.5,"m":0,"n":17.6,"o":22,"p":0,"q":8.8,"r":8.8,"s":0,"t":8.8,"u":4.4,"v":1},
{"date":"2024-04-01","a":0,"b":10,"c":14,"d":11.5,"e":16,"f":8,"g":39.5,"h":11,"i":0,"j":21.2,"k":19,"l":1.5,"m":0,"n":17.8,"o":22.3,"p":0,"q":8.9,"r":8.9,"s":0,"t":8.9,"u":4.5,"v":1},
{"date":"2024-05-01","a":0,"b":10,"c":14,"d":12,"e":18,"f":10,"g":40,"h":11,"i":0,"j":22.6,"k":20.2,"l":1.5,"m":0,"n":19.1,"o":23.8,"p":0,"q":9.5,"r":9.5,"s":0,"t":9.5,"u":4.8,"v":1},
{"date":"2024-05-05","a":0,"b":10,"c":14,"d":12,"e":19,"f":11,"g":40,"h":11,"i":0,"j":22.9,"k":20.5,"l":1.5,"m":0,"n":19.3,"o":24.1,"p":0,"q":9.6,"r":9.6,"s":0,"t":9.6,"u":4.8,"v":1}
 ]},
 "transform":[
  {"fold":["a","b","c","d","e","f","g","h","i","j","k","l","m","n","o","p","q","r","s","t","u","v"],"as":["s","val"]},
  {"stack":"val","groupby":["date"],"sort":[{"field":"s","order":"ascending"}],"as":["y0","y1"]}
 ],
 "encoding":{
  "x":{"field":"date","type":"temporal","scale":{"nice":false,"range":[62,946]},
   "axis":{"title":null,"values":[{"year":2017,"month":1,"date":1},{"year":2019,"month":1,"date":1},{"year":2021,"month":1,"date":1},{"year":2023,"month":1,"date":1}],"format":"%Y-%m-%d","ticks":false,"domain":false,"grid":false,"labelColor":"#666666","labelFontSize":12,"labelPadding":10,"labelFlush":false,"labelFont":"Noto Sans CJK SC"}}
 },
 "layer":[
  {"mark":{"type":"area","interpolate":"linear"},
   "encoding":{
    "y":{"field":"y0","type":"quantitative","scale":{"domain":[0,250],"nice":false,"zero":true},
     "axis":{"title":null,"offset":-62,"values":[0,50,100,150,200,250],"labelExpr":"datum.value == 0 ? '0.00' : format(datum.value, '.2f') + '万'","ticks":false,"domain":false,"grid":false,"labelColor":"#666666","labelFontSize":12,"labelPadding":5,"labelFont":"Noto Sans CJK SC"}},
    "y2":{"field":"y1"},
    "fill":{"field":"s","type":"nominal","legend":null,
     "scale":{"domain":["a","b","c","d","e","f","g","h","i","j","k","l","m","n","o","p","q","r","s","t","u","v"],
      "range":["#8ed9a8","#f2bd96","#a6e8c0","#93afeb","#bba1f2","#56628f","#9dcba6","#a3cffa","#6cb4fb","#6cd7d2","#aab3ee","#f7d548","#98e8dd","#c4ee9a","#9fc4ee","#6fb2fa","#f3bc95","#ae98ec","#f58a9b","#94e5dc","#9ce6a8","#7bbcf8"]}}
   }},
  {"mark":{"type":"trail"},
   "encoding":{
    "y":{"field":"y1","type":"quantitative",
     "axis":{"title":null,"offset":-62,"values":[0,50,100,150,200,250],"labelExpr":"datum.value == 0 ? '0.00' : format(datum.value, '.2f') + '万'","ticks":false,"domain":false,"grid":false,"labelColor":"#666666","labelFontSize":12,"labelPadding":5,"labelFont":"Noto Sans CJK SC"}},
    "color":{"field":"s","type":"nominal","legend":null,
     "scale":{"domain":["a","b","c","d","e","f","g","h","i","j","k","l","m","n","o","p","q","r","s","t","u","v"],
      "range":["#4fc27c","#eba572","#7ddba2","#7b98e4","#9877ea","#3d4876","#e8b355","#6f86e8","#2f86f0","#3fc6c0","#8e99e8","#f0c419","#6fdccf","#ef8db0","#34426e","#4d9cf5","#eea06e","#8b6fe4","#ef5f79","#67d8ca","#61d47d","#3b94f3"]}},
    "size":{"condition":{"test":"datum.val > 0","value":1.2},"value":0}
   }}
 ]
}
]
}
